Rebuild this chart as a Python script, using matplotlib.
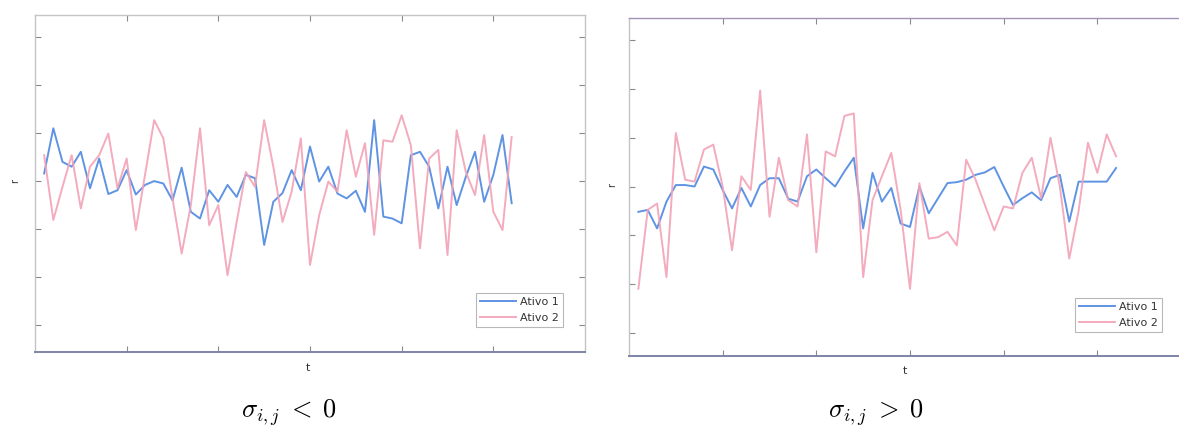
import numpy as np
import matplotlib
matplotlib.use("Agg")
import matplotlib.pyplot as plt

plt.rcParams["mathtext.fontset"] = "cm"
plt.rcParams["font.family"] = ["DejaVu Sans"]

# time axis (same for both panels)
t = np.arange(1, 53)

# left panel: negative covariance
left_ativo1 = [0.16, 1.10, 0.40, 0.30, 0.61, -0.15, 0.47, -0.27, -0.19, 0.23,
               -0.28, -0.08, 0.00, -0.05, -0.40, 0.28, -0.64, -0.78, -0.19, -0.43,
               -0.08, -0.33, 0.13, 0.06, -1.33, -0.43, -0.25, 0.23, -0.19, 0.72,
               -0.01, 0.30, -0.26, -0.36, -0.20, -0.64, 1.27, -0.74, -0.78, -0.88,
               0.54, 0.61, 0.30, -0.57, 0.30, -0.50, 0.09, 0.61, -0.43, 0.13,
               0.96, -0.46]
left_ativo2 = [0.54, -0.81, -0.12, 0.54, -0.57, 0.30, 0.54, 0.99, -0.15, 0.47,
               -1.02, 0.13, 1.27, 0.89, -0.36, -1.51, -0.50, 1.10, -0.92, -0.50,
               -1.96, -0.85, 0.19, -0.12, 1.27, 0.30, -0.85, -0.22, 0.89, -1.75,
               -0.71, -0.01, -0.22, 1.06, 0.09, 0.79, -1.12, 0.85, 0.82, 1.37,
               0.75, -1.40, 0.47, 0.65, -1.54, 1.06, 0.19, -0.29, 0.96, -0.64,
               -1.02, 0.92]

# right panel: positive covariance
right_ativo1 = [-0.52, -0.48, -0.86, -0.31, 0.03, 0.03, 0.00, 0.41, 0.35, -0.07,
                -0.45, -0.03, -0.41, 0.03, 0.17, 0.17, -0.25, -0.31, 0.21, 0.35,
                0.17, 0.00, 0.31, 0.59, -0.86, 0.28, -0.31, -0.03, -0.76, -0.83,
                0.00, -0.55, -0.24, 0.07, 0.09, 0.14, 0.24, 0.29, 0.40, 0.00,
                -0.38, -0.24, -0.12, -0.28, 0.17, 0.24, -0.72, 0.10, 0.10, 0.10,
                0.10, 0.38]
right_ativo2 = [-2.10, -0.48, -0.35, -1.86, 1.10, 0.14, 0.10, 0.76, 0.86, 0.00,
                -1.31, 0.21, -0.07, 1.97, -0.62, 0.59, -0.28, -0.41, 1.07, -1.35,
                0.72, 0.62, 1.45, 1.50, -1.86, -0.28, 0.21, 0.69, -0.48, -2.10,
                0.07, -1.07, -1.04, -0.93, -1.21, 0.55, 0.14, -0.38, -0.90, -0.41,
                -0.45, 0.28, 0.59, -0.24, 1.00, 0.00, -1.48, -0.50, 0.90, 0.28,
                1.07, 0.62]

labels = ["Ativo 1", "Ativo 2"]
captions = [r"$\sigma_{i,j}\;<\;0$", r"$\sigma_{i,j}\;>\;0$"]

BLUE = "#5f93e3"
PINK = "#f2a2b6"


def draw_panel(ax, y1, y2, ylim, legend_anchor, top_color):
    ax.plot(t, y1, color=BLUE, lw=1.4, label=labels[0])
    ax.plot(t, y2, color=PINK, lw=1.4, alpha=0.9, label=labels[1])
    ax.set_xlim(0, 60)
    ax.set_ylim(*ylim)
    ax.set_xticks([10, 20, 30, 40, 50])
    ax.set_yticks([-3, -2, -1, 0, 1, 2, 3])
    ax.set_xticklabels([])
    ax.set_yticklabels([])
    ax.tick_params(direction="in", length=4, width=0.8, color="#8a8a8a",
                   top=True, right=True)
    for side in ["left", "right"]:
        ax.spines[side].set_color("#c4c4c4")
        ax.spines[side].set_linewidth(1.0)
    ax.spines["top"].set_color(top_color)
    ax.spines["top"].set_linewidth(1.0)
    ax.spines["bottom"].set_color("#7d84a6")
    ax.spines["bottom"].set_linewidth(1.4)
    leg = ax.legend(loc="upper right", bbox_to_anchor=legend_anchor,
                    fontsize=8, handlelength=3.2, handletextpad=0.4,
                    borderpad=0.4, labelspacing=0.5, fancybox=False,
                    framealpha=1.0, edgecolor="#b8b8b8")
    leg.get_frame().set_linewidth(0.8)
    for txt in leg.get_texts():
        txt.set_color("#333333")


def main():
    fig = plt.figure(figsize=(11.79, 4.32), dpi=100)
    W, H = 1179.0, 432.0

    ax1 = fig.add_axes([35 / W, (H - 352) / H, 550 / W, 337 / H])
    draw_panel(ax1, left_ativo1, left_ativo2, (-3.56, 3.46), (0.971, 0.193),
               "#c4c4c4")

    ax2 = fig.add_axes([629 / W, (H - 356) / H, 562 / W, 338 / H])
    draw_panel(ax2, right_ativo1, right_ativo2, (-3.48, 3.46), (0.959, 0.189),
               "#a592b8")

    # axis labels (tiny, like the scanned figure)
    fig.text(308 / W, 1 - 368 / H, "t", fontsize=8, ha="center", va="center",
             color="#333333")
    fig.text(905 / W, 1 - 371 / H, "t", fontsize=8, ha="center", va="center",
             color="#333333")
    fig.text(15 / W, 1 - 181 / H, "r", fontsize=7, rotation=90,
             ha="center", va="center", color="#333333")
    fig.text(612 / W, 1 - 185 / H, "r", fontsize=7, rotation=90,
             ha="center", va="center", color="#333333")

    # captions under each panel
    fig.text(289 / W, 1 - 413 / H, captions[0], fontsize=19,
             ha="center", va="center")
    fig.text(876 / W, 1 - 413 / H, captions[1], fontsize=19,
             ha="center", va="center")

    fig.savefig("out.png", dpi=100)


if __name__ == "__main__":
    main()
